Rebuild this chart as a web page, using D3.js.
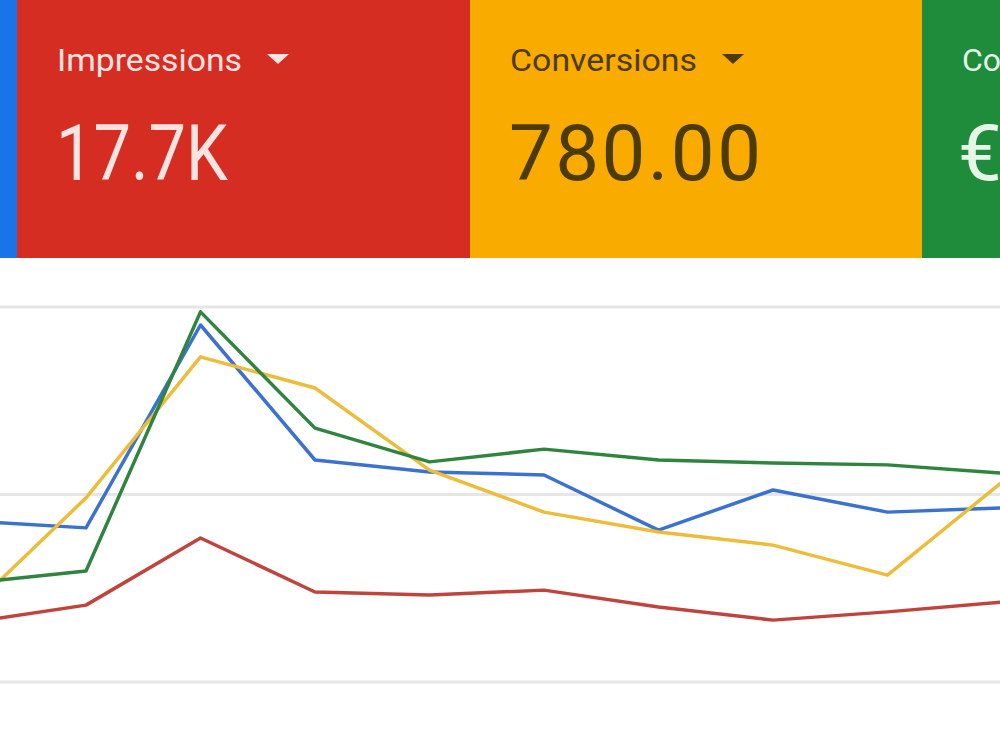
<!DOCTYPE html>
<html>
<head>
<meta charset="utf-8">
<script src="https://cdn.jsdelivr.net/npm/d3@7"></script>
<style>
  html, body { margin: 0; padding: 0; background: #ffffff; }
  svg { display: block; }
</style>
</head>
<body>
<svg id="chart" width="1000" height="750"></svg>
<script>
// ---- Data (day 0 lies just off the left edge of the crop) ----
const days = [0, 1, 2, 3, 4, 5, 6, 7, 8, 9];
const clicks      = [42.9, 41.1, 95.2, 59.2, 56.0, 55.2, 40.5, 51.2, 45.3, 46.4];
const impressions = [15.9, 20.5, 38.4, 24.0, 23.2, 24.5, 20.0, 16.5, 18.7, 21.3];
const conversions = [19.8, 49.1, 86.7, 78.4, 56.5, 45.3, 40.0, 36.5, 28.5, 53.3];
const cost        = [26.4, 29.6, 98.7, 67.7, 58.7, 62.1, 59.2, 58.4, 57.9, 55.7];
const gridTicks = [0, 50, 100];

const cardNames  = ["", "Impressions", "Conversions", "Co"];
const cardValues = ["", "17.7K", "780.00", "€"];

// ---- Layout ----
const svg = d3.select("#chart");
const W = 1000;

const x = d3.scaleLinear().domain([1, 9]).range([86, 1002]);
const y = d3.scaleLinear().domain([0, 100]).range([682, 307]);

// Cards
const cards = [
  {x0: 0,   x1: 17,  fill: "#1a73e8", text: "#ffffff", nameLen: null, valLen: null, adj: null},
  {x0: 17,  x1: 470, fill: "#d62d23", text: "#fbe3e1", nameLen: 185, valLen: 172, adj: "spacingAndGlyphs"},
  {x0: 470, x1: 922, fill: "#f9ab00", text: "#4d3b06", nameLen: 187, valLen: 252, adj: "spacing"},
  {x0: 922, x1: 1000, fill: "#1e8c3b", text: "#e6f5e8", nameLen: null, valLen: null, adj: null}
];
const cg = svg.append("g");
cards.forEach((c, i) => {
  cg.append("rect").attr("x", c.x0).attr("y", 0).attr("width", c.x1 - c.x0).attr("height", 258).attr("fill", c.fill);
  if (!cardNames[i]) return;
  const tx = c.x0 + 40;
  const t1 = cg.append("text").attr("x", tx).attr("y", 71)
    .attr("font-family", "Roboto, 'Open Sans', sans-serif").attr("font-size", 32)
    .attr("fill", c.text).text(cardNames[i]);
  if (c.nameLen) t1.attr("textLength", c.nameLen).attr("lengthAdjust", "spacingAndGlyphs");
  const t2 = cg.append("text").attr("x", tx - (i === 3 ? 4 : 1)).attr("y", 180)
    .attr("font-family", "Roboto, 'Open Sans', sans-serif").attr("font-size", 78)
    .attr("fill", c.text).text(cardValues[i]);
  if (c.valLen) t2.attr("textLength", c.valLen).attr("lengthAdjust", c.adj);
  if (i === 1 || i === 2) {
    const ax = i === 1 ? 278 : 733;
    cg.append("path")
      .attr("d", `M${ax-11},54 L${ax+11},54 L${ax},64 Z`)
      .attr("fill", c.text);
  }
});

// Gridlines
svg.append("g").selectAll("line").data(gridTicks).join("line")
  .attr("x1", 0).attr("x2", W)
  .attr("y1", d => y(d)).attr("y2", d => y(d))
  .attr("stroke", "#e6e6e6").attr("stroke-width", 3);

// Lines
const line = d3.line().x((d, i) => x(days[i])).y(d => y(d));
const series = [
  {vals: impressions, color: "#c0443e"},
  {vals: clicks,      color: "#3c72cf"},
  {vals: conversions, color: "#ecbc3a"},
  {vals: cost,        color: "#2f8440"}
];
svg.append("g").selectAll("path").data(series).join("path")
  .attr("d", d => line(d.vals))
  .attr("fill", "none")
  .attr("stroke", d => d.color)
  .attr("stroke-width", 3.5)
  .attr("stroke-linejoin", "round");
</script>
</body>
</html>
